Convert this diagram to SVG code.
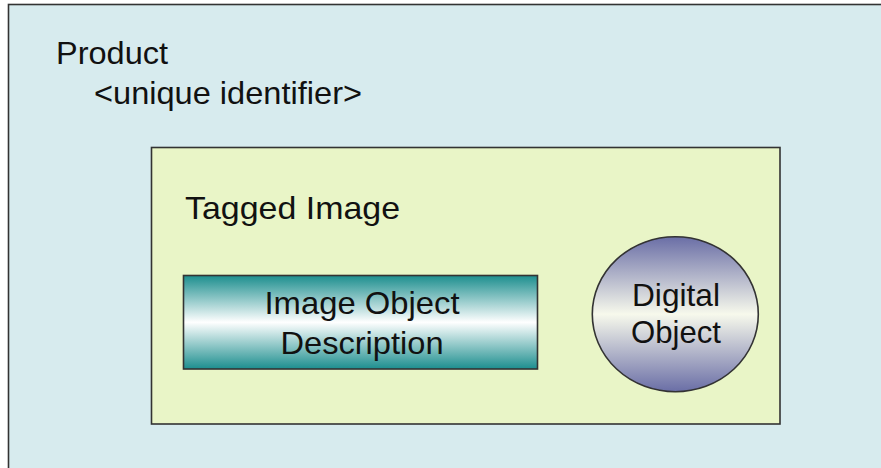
<svg xmlns="http://www.w3.org/2000/svg" width="881" height="468" viewBox="0 0 881 468">
  <defs>
    <linearGradient id="teal" x1="0" y1="0" x2="0" y2="1">
      <stop offset="0" stop-color="#1c8e8e"/>
      <stop offset="0.5" stop-color="#ffffff"/>
      <stop offset="1" stop-color="#1c8e8e"/>
    </linearGradient>
    <linearGradient id="violet" x1="0" y1="0" x2="0" y2="1">
      <stop offset="0" stop-color="#6a6ea6"/>
      <stop offset="0.5" stop-color="#f7f9ec"/>
      <stop offset="1" stop-color="#6a6ea6"/>
    </linearGradient>
    <style>
      .box { stroke: #333333; stroke-width: 1.6; }
      .t { font-family: "Liberation Sans", Arial, sans-serif; font-size: 32px; fill: #111111; }
      .c { text-anchor: middle; }
    </style>
  </defs>
  <rect x="0" y="0" width="881" height="468" fill="#ffffff"/>
  <g id="product">
    <rect class="box" x="8.5" y="4.5" width="890" height="480" fill="#d7ebee" stroke-width="2"/>
    <text class="t" x="56" y="64" textLength="112" lengthAdjust="spacingAndGlyphs">Product</text>
    <text class="t" x="94" y="104" textLength="268" lengthAdjust="spacingAndGlyphs">&lt;unique identifier&gt;</text>
  </g>
  <g id="tagged-image">
    <rect class="box" x="151.5" y="147.5" width="628.5" height="276.5" fill="#e9f5c7"/>
    <text class="t" x="185" y="219" textLength="215" lengthAdjust="spacingAndGlyphs">Tagged Image</text>
  </g>
  <g id="image-object-description">
    <rect class="box" x="183.5" y="275.5" width="354" height="93.5" fill="url(#teal)"/>
    <text class="t c" x="362" y="314" textLength="195" lengthAdjust="spacingAndGlyphs">Image Object</text>
    <text class="t c" x="362" y="354" textLength="163" lengthAdjust="spacingAndGlyphs">Description</text>
  </g>
  <g id="digital-object">
    <ellipse class="box" cx="675.3" cy="314.2" rx="83" ry="77.5" fill="url(#violet)"/>
    <text class="t c" x="676" y="306" textLength="88" lengthAdjust="spacingAndGlyphs">Digital</text>
    <text class="t c" x="676" y="343" textLength="90" lengthAdjust="spacingAndGlyphs">Object</text>
  </g>
  <g id="connectors"/>
</svg>
